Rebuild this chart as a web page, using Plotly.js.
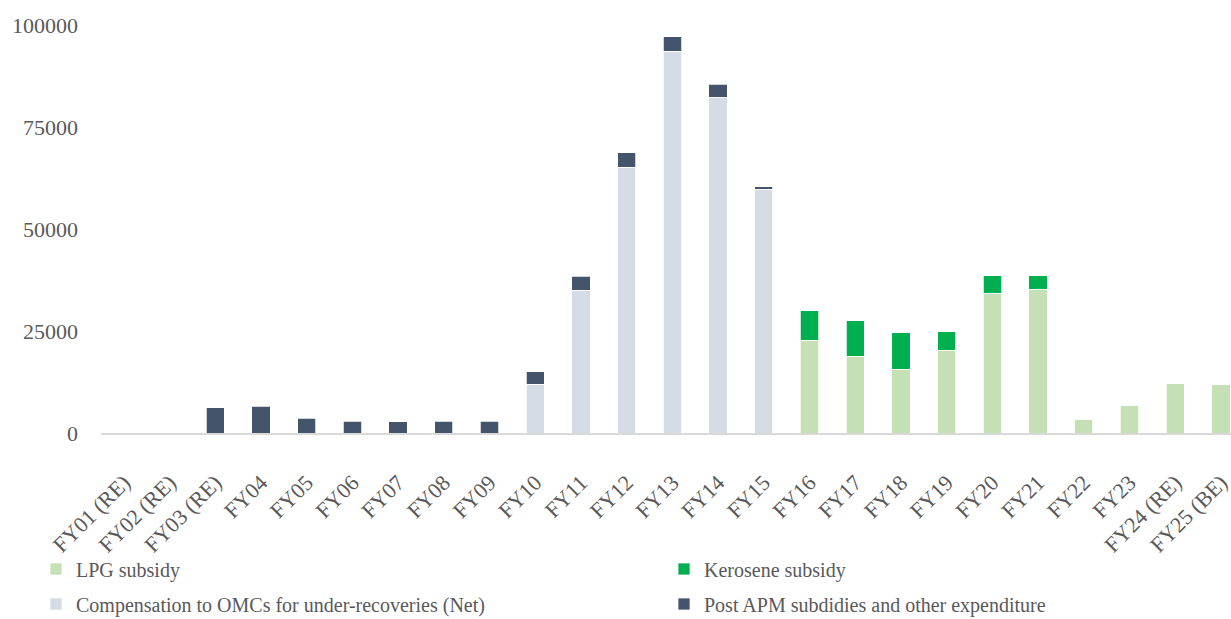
<!DOCTYPE html>
<html>
<head>
<meta charset="utf-8">
<script src="https://cdn.plot.ly/plotly-3.0.1.min.js"></script>
<style>
  html, body { margin: 0; padding: 0; background: #ffffff; }
  #chart { width: 1231px; height: 619px; }
</style>
</head>
<body>
<div id="chart"></div>
<script>
// Fiscal years on the category axis
const years = [
  "FY01 (RE)", "FY02 (RE)", "FY03 (RE)", "FY04", "FY05", "FY06", "FY07", "FY08", "FY09",
  "FY10", "FY11", "FY12", "FY13", "FY14", "FY15", "FY16", "FY17", "FY18", "FY19",
  "FY20", "FY21", "FY22", "FY23", "FY24 (RE)", "FY25 (BE)"
];

// Subsidy components (Rs crore)
const lpgSubsidy = [
  0, 0, 0, 0, 0, 0, 0, 0, 0,
  0, 0, 0, 0, 0, 0, 22700, 18800, 15600, 20300,
  34200, 35200, 3400, 6800, 12200, 11900
];
const keroseneSubsidy = [
  0, 0, 0, 0, 0, 0, 0, 0, 0,
  0, 0, 0, 0, 0, 0, 7400, 8700, 9000, 4600,
  4500, 3500, 200, 0, 0, 0
];
const omcCompensation = [
  0, 0, 0, 0, 0, 0, 0, 0, 0,
  12000, 35000, 65100, 93600, 82300, 59700, 0, 0, 0, 0,
  0, 0, 0, 0, 0, 0
];
const postApmOther = [
  0, 0, 6200, 6500, 3600, 2900, 2700, 2900, 2900,
  3000, 3400, 3600, 3500, 3200, 700, 0, 0, 0, 0,
  0, 0, 0, 0, 0, 0
];

const yTicks = [0, 25000, 50000, 75000, 100000];

const serif = "Liberation Serif, Times New Roman, serif";
const textFont = { family: serif, size: 20, color: "#595959" };
const edge = { color: "#ffffff", width: 0.75 };

function barTrace(name, values, color, legendId) {
  return {
    type: "bar",
    name: name,
    x: years,
    y: values,
    marker: { color: color, line: edge },
    legend: legendId,
    hovertemplate: "%{x}: %{y}<extra>" + name + "</extra>"
  };
}

const data = [
  barTrace("LPG subsidy", lpgSubsidy, "#C5E0B4", "legend"),
  barTrace("Kerosene subsidy", keroseneSubsidy, "#00B050", "legend2"),
  barTrace("Compensation to OMCs for under-recoveries (Net)", omcCompensation, "#D6DCE5", "legend3"),
  barTrace("Post APM subdidies and other expenditure", postApmOther, "#44546A", "legend4")
];

// One legend box per entry, laid out as a two-column grid below the axis
function legendAt(x, y) {
  return {
    xref: "container",
    yref: "container",
    xanchor: "left",
    yanchor: "middle",
    x: x,
    y: y,
    font: textFont,
    bgcolor: "rgba(0,0,0,0)"
  };
}
const col1 = 36 / 1231, col2 = 664 / 1231;
const row1 = 1 - 569 / 619, row2 = 1 - 604 / 619;

const layout = {
  width: 1231,
  height: 619,
  margin: { l: 100.5, r: 0, t: 24.7, b: 186.3, pad: 0, autoexpand: false },
  paper_bgcolor: "#ffffff",
  plot_bgcolor: "#ffffff",
  barmode: "stack",
  bargap: 0.6,
  font: textFont,
  showlegend: true,
  xaxis: {
    type: "category",
    range: [-0.5, 24.22],
    tickangle: -45,
    tickfont: { family: serif, size: 22, color: "#595959" },
    showgrid: false,
    zeroline: false,
    showline: true,
    linecolor: "#D9D9D9",
    linewidth: 2,
    ticks: "",
    ticklabelstandoff: 26,
    automargin: false,
    fixedrange: true
  },
  yaxis: {
    range: [0, 100000],
    tickvals: yTicks,
    tickformat: "d",
    tickfont: { family: serif, size: 22, color: "#595959" },
    showgrid: false,
    zeroline: false,
    showline: false,
    ticks: "",
    ticklabelstandoff: 22,
    automargin: false,
    fixedrange: true
  },
  legend: legendAt(col1, row1),
  legend2: legendAt(col2, row1),
  legend3: legendAt(col1, row2),
  legend4: legendAt(col2, row2)
};

Plotly.newPlot("chart", data, layout, { displayModeBar: false, responsive: false });
</script>
</body>
</html>
